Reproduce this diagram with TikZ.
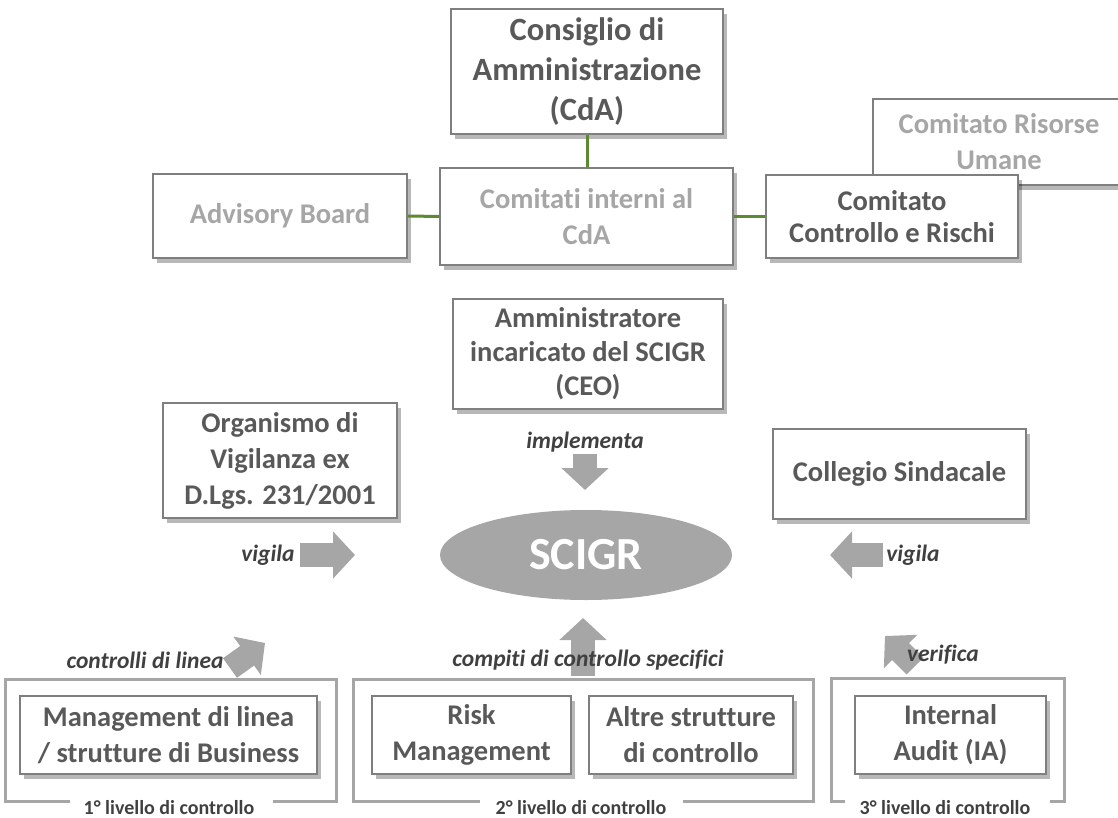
\documentclass[tikz,border=0pt]{standalone}
\usepackage{fontspec}
\setmainfont[Ligatures=NoCommon]{Carlito}
\usetikzlibrary{shapes.geometric,arrows.meta,shadows}
\definecolor{txtdark}{HTML}{595959}
\definecolor{txtlight}{HTML}{A6A6A6}
\definecolor{boxline}{HTML}{7F7F7F}
\definecolor{greenline}{HTML}{5B8A32}
\definecolor{framegray}{HTML}{A6A6A6}
\definecolor{arrowgray}{HTML}{A6A6A6}
\definecolor{lbl}{HTML}{404040}
\tikzset{
  orgbox/.style={draw=boxline, line width=1.3pt, fill=white, align=center, inner sep=0pt,
    text=txtdark, font=\fontsize{28.5}{36}\selectfont\bfseries,
    drop shadow={shadow xshift=4pt, shadow yshift=-5pt, fill=black, opacity=0.28}},
  lightbox/.style={orgbox, text=txtlight},
  bigfont/.style={font=\fontsize{32.5}{40}\selectfont\bfseries},
  tightfont/.style={font=\fontsize{28.5}{32}\selectfont\bfseries},
  link/.style={draw=greenline, line width=3pt},
  frame/.style={draw=framegray, line width=3pt},
  lvl/.style={text=lbl, font=\fontsize{20}{24}\selectfont\bfseries, inner sep=0pt, anchor=base},
  verb/.style={text=lbl, font=\fontsize{23.5}{26}\selectfont\bfseries\itshape, inner sep=0pt},
  blockarrow/.style={draw=arrowgray, line width=24pt, -{Triangle[width=46pt,length=22pt]}},
}
\begin{document}
\begin{tikzpicture}[x=1pt,y=-1pt]
\useasboundingbox (0,0) rectangle (1118,818);
% top level
\node[orgbox, bigfont, minimum width=272pt, minimum height=125pt] (cda) at (587,71.5) {Consiglio di\\Amministrazione\\(CdA)};
\node[lightbox, minimum width=293pt, minimum height=97pt] (com) at (586.5,216.5) {Comitati interni al\\CdA};
\node[lightbox, minimum width=254pt, minimum height=84pt] (adv) at (280,216) {Advisory Board};
\node[lightbox, minimum width=252pt, minimum height=86pt] (cru) at (999,142) {Comitato Risorse\\Umane};
\node[orgbox, tightfont, minimum width=252pt, minimum height=83pt] (ccr) at (892,216.5) {Comitato\\Controllo e Rischi};
\draw[link] (cda.south) -- (cda.south |- com.north);
\draw[link] (adv.east) -- (com.west);
\draw[link] (com.east) -- (ccr.west);
% middle
\node[orgbox, font=\fontsize{28.5}{34}\selectfont\bfseries, minimum width=270pt, minimum height=110pt] (ceo) at (588,354) {Amministratore\\incaricato del SCIGR\\(CEO)};
\node[orgbox, minimum width=234pt, minimum height=115pt] (odv) at (280,460.5) {Organismo di\\Vigilanza ex\\D.Lgs. 231/2001};
\node[orgbox, minimum width=253pt, minimum height=90pt] (col) at (899.5,474) {Collegio Sindacale};
\node[ellipse, fill=arrowgray, minimum width=292pt, minimum height=90pt, inner sep=0pt,
  text=white, font=\fontsize{46}{52}\selectfont\bfseries] (scigr) at (586,555) {SCIGR};
% verbs and arrows
\node[verb] (impl) at (585,442) {implementa};
\coordinate (implA) at (585,454);
\coordinate (implB) at (585,490);
\draw[blockarrow] (implA) -- (implB);
\node[verb] (vigL) at (268,555) {vigila};
\coordinate (vigLA) at (300,555);
\coordinate (vigLB) at (355,555);
\draw[blockarrow] (vigLA) -- (vigLB);
\node[verb] (vigR) at (913,555) {vigila};
\coordinate (vigRA) at (883,555);
\coordinate (vigRB) at (830,555);
\draw[blockarrow] (vigRA) -- (vigRB);
\coordinate (ctlA) at (230,668);
\coordinate (ctlB) at (265,643);
\draw[blockarrow] (ctlA) -- (ctlB);
\node[verb] (ctl) at (145,660) {controlli di linea};
\coordinate (cmpA) at (583,676);
\coordinate (cmpB) at (583,618);
\draw[blockarrow] (cmpA) -- (cmpB);
\node[verb] (cmp) at (588,660) {compiti di controllo specifici};
\coordinate (verA) at (915,666);
\coordinate (verB) at (885,636);
\draw[blockarrow] (verA) -- (verB);
\node[verb] (ver) at (943,655) {verifica};
% level frames
\draw[frame] (70,801) -- (5,801) -- (5,679) -- (336,679) -- (336,801) -- (273,801);
\draw[frame] (480,801) -- (353,801) -- (353,679) -- (813,679) -- (813,801) -- (683,801);
\draw[frame] (845,801) -- (831,801) -- (831,678) -- (1064,678) -- (1064,801) -- (1050,801);
\node[lvl] (l1) at (169,814) {1° livello di controllo};
\node[lvl] (l2) at (581,814) {2° livello di controllo};
\node[lvl] (l3) at (945,814) {3° livello di controllo};
% bottom boxes
\node[orgbox, minimum width=297pt, minimum height=78pt] (mgmt) at (168.5,735) {Management di linea\\/ strutture di Business};
\node[orgbox, minimum width=199pt, minimum height=78pt] (risk) at (471.5,735) {Risk\\Management};
\node[orgbox, minimum width=204pt, minimum height=78pt] (altre) at (691,735) {Altre strutture\\di controllo};
\node[orgbox, minimum width=191pt, minimum height=78pt] (ia) at (950.5,735) {Internal\\Audit (IA)};
\end{tikzpicture}
\end{document}
